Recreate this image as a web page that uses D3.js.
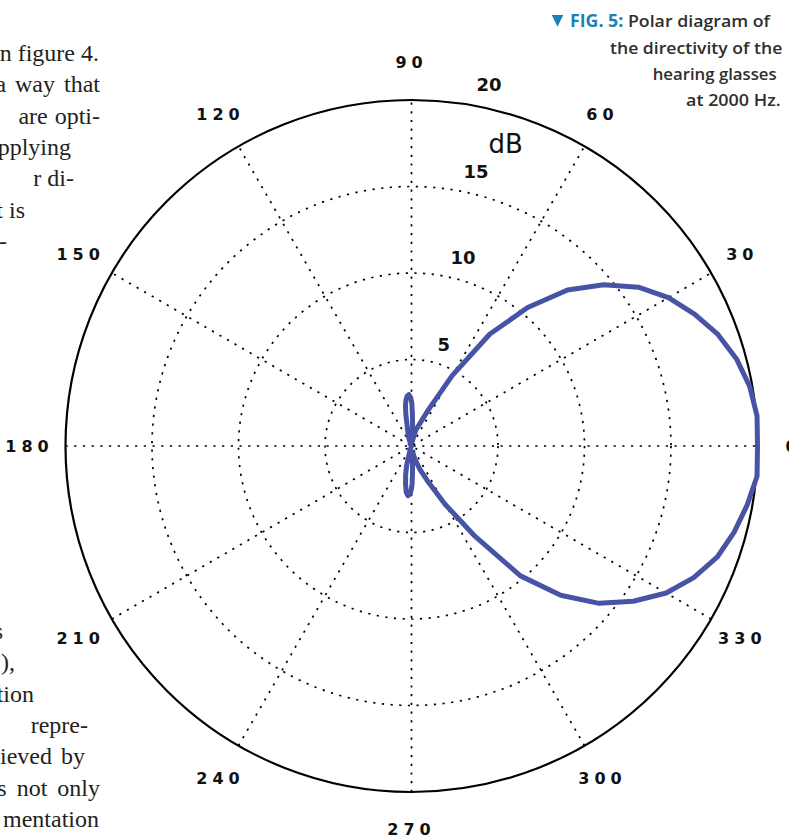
<!DOCTYPE html>
<html>
<head>
<meta charset="utf-8">
<script src="https://cdn.jsdelivr.net/npm/d3@7"></script>
<style>
  html, body { margin: 0; padding: 0; background: #fff; overflow: hidden; }
  svg { display: block; }
</style>
</head>
<body>
<svg id="chart" width="789" height="836"></svg>
<script>
// Directivity of the hearing glasses at 2000 Hz (level in dB, angle in degrees, 0 = front/right)
const angleDeg = [
  0, 5, 10, 15, 20, 25, 30, 35, 40, 45, 50, 55, 60, 65, 70, 75, 80,
  85, 87, 88.5, 89.5, 91, 93, 95, 97, 98.5, 100, 101, 104, 108, 112, 120,
  180, 240,
  250, 254, 256, 258.5, 261, 263.5, 266, 268.5, 270, 271, 272, 273, 276, 280,
  285, 290, 295, 300, 305, 310, 315, 320, 325, 330, 335, 340, 345, 350, 355
];
const levelDb = [
  20.0, 20.05, 19.85, 19.45, 18.85, 18.05, 17.15, 16.0, 14.5, 12.75, 10.45, 7.9, 4.7, 2.3, 1.35, 0.95, 0.3,
  0.65, 1.2, 1.9, 2.45, 2.8, 2.98, 2.9, 2.65, 2.35, 1.9, 1.5, 0.9, 0.6, 0.2, 0,
  0, 0,
  0.2, 0.55, 1.15, 1.7, 2.2, 2.7, 2.88, 2.75, 2.45, 2.15, 1.6, 1.1, 0.55, 0.35,
  0.85, 1.45, 2.3, 3.9, 6.3, 9.8, 12.2, 14.15, 15.65, 17.0, 18.0, 18.8, 19.3, 19.7, 20.05
];

// Axes
const ringTicks = [5, 10, 15];
const rangeTickLabels = ["5", "10", "15", "20"];
const rangeTickValues = [5, 10, 15, 20];
const spokeAngles = [0, 30, 60, 90, 120, 150];
const angleTickValues = [0, 30, 60, 90, 120, 150, 180, 210, 240, 270, 300, 330];
const rangeUnit = "dB";

// Caption
const captionTag = "FIG. 5:";
const captionLines = ["Polar diagram of", "the directivity of the", "hearing glasses", "at 2000 Hz."];

// Surrounding page text (wrapped around the figure)
const pageLinesTop = ["n figure 4.", "a way that", "are opti-", "pplying", "r di-", "t is", "-"];
const pageLinesBottom = ["s", "),", "tion", "repre-", "ieved by", "s not only", "mentation"];

const svg = d3.select("#chart");
const W = 789, H = 836;
svg.append("rect").attr("width", W).attr("height", H).attr("fill", "#fff");

// ---- page text ----
const pageText = svg.append("g")
  .style("font-family", "'Liberation Serif', 'Times New Roman', serif")
  .style("font-size", "24px")
  .attr("fill", "#231f20");
const topRight = [99, 100, 100, 71, 74, 25, 7];
const topWordSpacing = [0, 3, 1, 0, 0, 0, 0];
pageLinesTop.forEach((t, i) => {
  pageText.append("text")
    .attr("x", topRight[i]).attr("y", 61 + i * 31.3)
    .attr("text-anchor", "end")
    .style("word-spacing", topWordSpacing[i] + "px")
    .text(t);
});
const bottomRight = [3, 15, 34, 88, 85, 100, 99];
const bottomWordSpacing = [0, 0, 0, 0, 3, 4, 0];
pageLinesBottom.forEach((t, i) => {
  pageText.append("text")
    .attr("x", bottomRight[i]).attr("y", 639 + i * 31.3)
    .attr("text-anchor", "end")
    .style("word-spacing", bottomWordSpacing[i] + "px")
    .text(t);
});

// ---- polar chart ----
const cx = 411.5, cy = 446;
const r = d3.scaleLinear().domain([0, 20]).range([0, 346]);
const rad = d => d * Math.PI / 180;
const g = svg.append("g").attr("transform", `translate(${cx},${cy})`);

const dotStyle = sel => sel
  .attr("fill", "none")
  .attr("stroke", "#000")
  .attr("stroke-width", 1.7)
  .attr("stroke-dasharray", "2.2 6.5");

// dotted range rings
g.selectAll("circle.ring").data(ringTicks).join("circle")
  .attr("class", "ring")
  .attr("r", d => r(d))
  .call(dotStyle);

// dotted spokes (full diameters)
g.selectAll("line.spoke").data(spokeAngles).join("line")
  .attr("class", "spoke")
  .attr("x1", d => -r(20) * Math.cos(rad(d)))
  .attr("y1", d => r(20) * Math.sin(rad(d)))
  .attr("x2", d => r(20) * Math.cos(rad(d)))
  .attr("y2", d => -r(20) * Math.sin(rad(d)))
  .call(dotStyle);

// outer boundary
g.append("circle")
  .attr("r", r(20))
  .attr("fill", "none")
  .attr("stroke", "#000")
  .attr("stroke-width", 2.2);

// angle labels, placed just outside the boundary
const ls = 5;
const labelRx = 382, labelRy = 383.5;
g.selectAll("text.ang").data(angleTickValues).join("text")
  .attr("class", "ang")
  .attr("x", d => labelRx * Math.cos(rad(d)))
  .attr("y", d => -labelRy * Math.sin(rad(d)))
  .attr("dy", "0.36em")
  .attr("text-anchor", "middle")
  .style("font-family", "'DejaVu Sans', sans-serif")
  .style("font-weight", "bold")
  .style("font-size", "16px")
  .style("letter-spacing", ls + "px")
  .attr("fill", "#111")
  .text(d => String(d));

// range labels
g.selectAll("text.rng").data(rangeTickValues).join("text")
  .attr("class", "rng")
  .attr("x", d => 13 + 0.15 * r(d))
  .attr("y", d => -r(d) - 9)
  .style("font-family", "'DejaVu Sans', sans-serif")
  .style("font-weight", "bold")
  .style("font-size", "18px")
  .attr("fill", "#111")
  .text((d, i) => rangeTickLabels[i]);

// unit label
g.append("text")
  .attr("x", 77).attr("y", -293.3)
  .style("font-family", "'DejaVu Sans', sans-serif")
  .style("font-size", "26px")
  .attr("fill", "#111")
  .text(rangeUnit);

// directivity curve
const pts = angleDeg.map((a, i) => ({ a, v: levelDb[i] }));
const radial = d3.lineRadial()
  .angle(d => rad(90 - d.a))
  .radius(d => r(d.v))
  .curve(d3.curveLinearClosed);
g.append("path")
  .attr("d", radial(pts))
  .attr("fill", "none")
  .attr("stroke", "#4853a6")
  .attr("stroke-width", 5)
  .attr("stroke-linejoin", "round");

// ---- caption ----
const capBlue = "#1e80b3", capGray = "#2e2e2e";
const cap = svg.append("g")
  .style("font-family", "'Open Sans', Lato, sans-serif")
  .style("font-weight", "600")
  .style("font-size", "17px");
// [left, right, baseline] of each caption line
const capBox = [[570, 770, 27.3], [610, 782.3, 54], [652.7, 776.7, 80.3], [686, 780.7, 106]];
const first = cap.append("text")
  .attr("x", capBox[0][0]).attr("y", capBox[0][2])
  .attr("textLength", capBox[0][1] - capBox[0][0])
  .attr("lengthAdjust", "spacingAndGlyphs");
first.append("tspan").attr("fill", capBlue).style("font-weight", "700").text(captionTag + " ");
first.append("tspan").attr("fill", capGray).text(captionLines[0]);
captionLines.slice(1).forEach((t, i) => {
  const b = capBox[i + 1];
  cap.append("text")
    .attr("x", b[0]).attr("y", b[2])
    .attr("textLength", b[1] - b[0])
    .attr("lengthAdjust", "spacingAndGlyphs")
    .attr("fill", capGray)
    .text(t);
});
// marker triangle before the caption tag
svg.append("path")
  .attr("d", d3.line()([[551.7, 15], [563.3, 15], [557.5, 26.7]]) + "Z")
  .attr("fill", capBlue);
</script>
</body>
</html>
